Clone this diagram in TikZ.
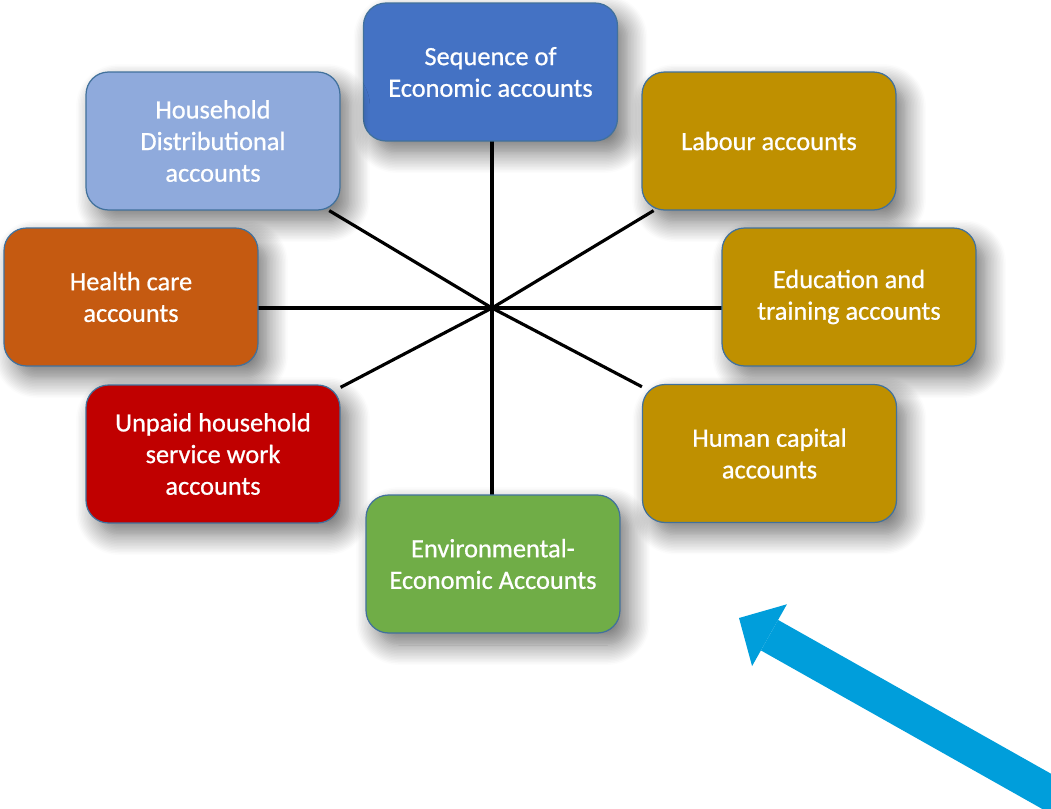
\documentclass[tikz,border=0pt]{standalone}
\usepackage{fontspec}
\setmainfont{Carlito}
\newfontface\boxfont{Carlito}[FakeBold=0.7]
\usepackage{xcolor}
\usetikzlibrary{arrows.meta,backgrounds,shadows.blur}

\definecolor{seqblue}{HTML}{4472C4}
\definecolor{hhblue}{HTML}{8FAADC}
\definecolor{labgold}{HTML}{BF9000}
\definecolor{healthorange}{HTML}{C55A11}
\definecolor{unpaidred}{HTML}{C00000}
\definecolor{envgreen}{HTML}{70AD47}
\definecolor{rimblue}{HTML}{41719C}
\definecolor{arrowblue}{HTML}{009EDB}

\begin{document}
\begin{tikzpicture}[x=0.02cm,y=-0.02cm,
  every node/.style={font=\boxfont\fontsize{15}{18}\selectfont},
  acct/.style={rectangle,draw=rimblue,line width=0.7pt,rounded corners=0.45cm,
    minimum width=5.08cm,minimum height=2.76cm,align=center,text=white,
    blur shadow={shadow xshift=0.2cm,shadow yshift=-0.24cm,shadow blur radius=0.4cm,
      shadow blur steps=14,shadow opacity=55}},
  spoke/.style={line width=1.8pt},
  bigarrow/.style={draw=arrowblue,line width=0.7cm,
    -{Triangle[length=0.7cm,width=1.42cm,line width=0pt,fill=arrowblue]}}]
\useasboundingbox (0,0) rectangle (1051,808);
\coordinate (hub) at (492,308);
\node[acct,fill=seqblue] (seq) at (490.5,72) {Sequence of\\Economic accounts};
\node[acct,fill=hhblue] (hh) at (213,141) {Household\\Distributional\\accounts};
\node[acct,fill=labgold] (lab) at (769,141) {Labour accounts};
\node[acct,fill=healthorange] (health) at (131,297) {Health care\\accounts};
\node[acct,fill=labgold] (edu) at (849,297) {Education and\\training accounts};
\node[acct,fill=unpaidred] (unpaid) at (213,454) {Unpaid household\\service work\\accounts};
\node[acct,fill=labgold] (human) at (769.5,453.5) {Human capital\\accounts};
\node[acct,fill=envgreen] (env) at (493,564) {Environmental-\\Economic Accounts};
% spokes under the boxes
\begin{pgfonlayer}{background}
\draw[spoke] (hub) -- (hub |- seq);
\draw[spoke] (hub) -- (hub |- env);
\draw[spoke] (hub) -- (health |- hub);
\draw[spoke] (hub) -- (edu |- hub);
\draw[spoke] (hub) -- (hh);
\draw[spoke] (hub) -- (lab);
\draw[spoke] (hub) -- (unpaid);
\draw[spoke] (hub) -- (human);
\end{pgfonlayer}
% pointer
\coordinate (tail) at (1062,800);
\coordinate (tip) at (739,618);
\draw[bigarrow] (tail) -- (tip);
\end{tikzpicture}
\end{document}
